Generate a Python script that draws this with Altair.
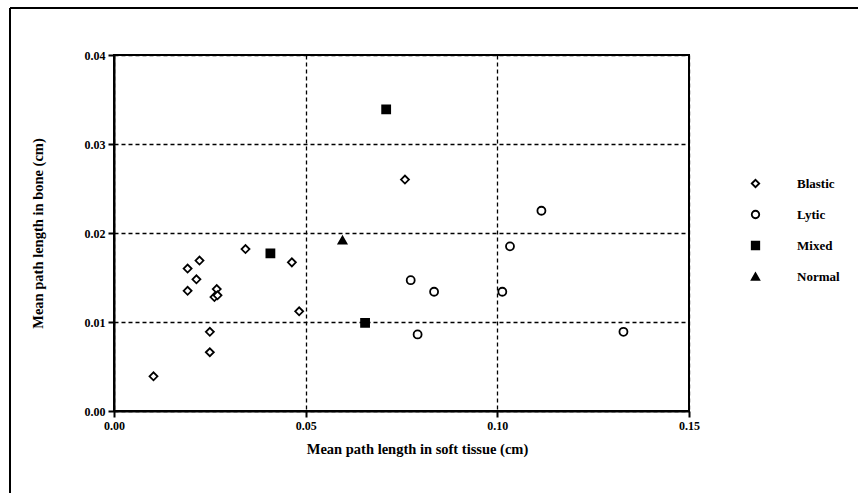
import altair as alt
import pandas as pd

# Mean path lengths per lesion, grouped by lesion type
blastic_soft = [0.0103, 0.0250, 0.0250, 0.0192, 0.0268, 0.0262, 0.0270,
                0.0215, 0.0192, 0.0223, 0.0343, 0.0464, 0.0483, 0.0759]
blastic_bone = [0.0039, 0.0066, 0.0089, 0.0135, 0.0137, 0.0128, 0.0130,
                0.0148, 0.0160, 0.0169, 0.0182, 0.0167, 0.0112, 0.0260]
lytic_soft = [0.0774, 0.0835, 0.0792, 0.1013, 0.1033, 0.1115, 0.1329]
lytic_bone = [0.0147, 0.0134, 0.0086, 0.0134, 0.0185, 0.0225, 0.0089]
mixed_soft = [0.0408, 0.0710, 0.0655]
mixed_bone = [0.0177, 0.0339, 0.0099]
normal_soft = [0.0596]
normal_bone = [0.0192]

types = ["Blastic", "Lytic", "Mixed", "Normal"]
shapes = ["diamond", "circle", "square", "triangle-up"]
fills = ["white", "white", "black", "black"]
strokes = ["black", "black", "black", "black"]

x_ticks = [0.0, 0.05, 0.10, 0.15]
y_ticks = [0.0, 0.01, 0.02, 0.03, 0.04]

rows = []
for name, xs, ys in [("Blastic", blastic_soft, blastic_bone),
                     ("Lytic", lytic_soft, lytic_bone),
                     ("Mixed", mixed_soft, mixed_bone),
                     ("Normal", normal_soft, normal_bone)]:
    for a, b in zip(xs, ys):
        rows.append({"type": name, "soft": a, "bone": b})
df = pd.DataFrame(rows)

FONT = "Liberation Serif"
W, H = 575, 356
LEFT, TOP = 114, 55

legend = alt.Legend(title=None, orient="none", legendX=635, legendY=122)

points = alt.Chart(df).mark_point(
    size=64, strokeWidth=1.8, opacity=1, filled=True
).encode(
    x=alt.X("soft:Q", title="Mean path length in soft tissue (cm)",
            scale=alt.Scale(domain=[0, 0.15], nice=False),
            axis=alt.Axis(values=x_ticks, format=".2f", grid=True,
                          labelFlush=False, titlePadding=11,
                          titleX=303, titleAlign="center")),
    y=alt.Y("bone:Q", title="Mean path length in bone (cm)",
            scale=alt.Scale(domain=[0, 0.04], nice=False),
            axis=alt.Axis(values=y_ticks, format=".2f", grid=True,
                          labelFlush=False, titlePadding=39)),
    shape=alt.Shape("type:N", scale=alt.Scale(domain=types, range=shapes),
                    legend=legend),
    fill=alt.Fill("type:N", scale=alt.Scale(domain=types, range=fills),
                  legend=legend),
    stroke=alt.Stroke("type:N", scale=alt.Scale(domain=types, range=strokes),
                      legend=legend),
)

# Outer frame: top edge and left edge of the figure
frame_top = alt.Chart().mark_rule(color="black", strokeWidth=2).encode(
    x=alt.value(10 - LEFT), x2=alt.value(858 - LEFT), y=alt.value(8 - TOP)
)
frame_left = alt.Chart().mark_rule(color="black", strokeWidth=2).encode(
    x=alt.value(10 - LEFT), y=alt.value(8 - TOP), y2=alt.value(493 - TOP)
)

chart = alt.layer(frame_top, frame_left, points).properties(
    width=W, height=H,
    autosize=alt.AutoSizeParams(type="none"),
    padding={"left": LEFT, "top": TOP, "right": 858 - LEFT - W,
             "bottom": 493 - TOP - H},
    background="white",
).configure_view(
    stroke="black", strokeWidth=2
).configure_axis(
    labelFont=FONT, labelFontSize=12, labelFontWeight="bold",
    labelColor="black",
    titleFont=FONT, titleFontSize=14.5, titleFontWeight="bold",
    titleColor="black",
    domainColor="black", domainWidth=2,
    tickColor="black", tickWidth=2, tickSize=6,
    gridColor="black", gridDash=[4, 3], gridWidth=1.3, gridOpacity=1,
    labelPadding=3,
).configure_legend(
    labelFont=FONT, labelFontSize=13, labelFontWeight="bold",
    labelColor="black", symbolSize=56, symbolStrokeWidth=1.8,
    rowPadding=16, labelOffset=35,
)

chart.save("out.html", embed_options={"renderer": "svg", "actions": False})
